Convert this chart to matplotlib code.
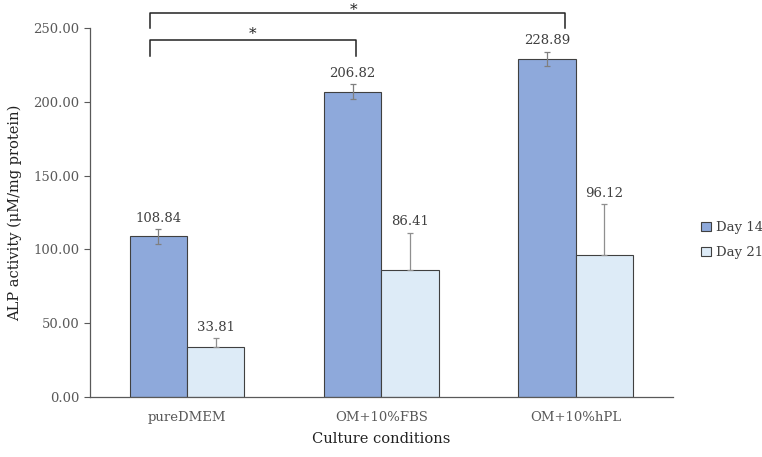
import matplotlib.pyplot as plt
import numpy as np

conditions = ["pureDMEM", "OM+10%FBS", "OM+10%hPL"]
day14 = [108.84, 206.82, 228.89]
day14_err = [5.0, 5.0, 5.0]
day21 = [33.81, 86.41, 96.12]
day21_err = [6.0, 25.0, 34.5]

plt.rcParams['font.family'] = ['DejaVu Serif']

fig = plt.figure(figsize=(7.62, 4.57), dpi=100)
ax = fig.add_axes([0.118, 0.131, 0.765, 0.808])

x = np.arange(len(conditions))
w = 0.295
edge = "#404040"
ax.bar(x - w/2, day14, w, color="#8EA9DB", edgecolor=edge, linewidth=0.8, label="Day 14", zorder=2)
ax.bar(x + w/2, day21, w, color="#DDEBF7", edgecolor=edge, linewidth=0.8, label="Day 21", zorder=2)
ax.errorbar(x - w/2, day14, yerr=day14_err, fmt="none", ecolor="#7f7f7f", elinewidth=0.9, capsize=2.5, capthick=0.9, zorder=3)
ax.errorbar(x + w/2, day21, yerr=[np.zeros(3), day21_err], fmt="none", ecolor="#8f8f8f", elinewidth=0.9, capsize=2.5, capthick=0.9, zorder=3)

for xs, vals, errs in [(x - w/2, day14, day14_err), (x + w/2, day21, day21_err)]:
    for xi, v, e in zip(xs, vals, errs):
        ax.text(xi, v + e + 3, f"{v:.2f}", ha="center", va="bottom", fontsize=9.5, color="#404040")

ax.set_xlim(-0.5, 2.5)
ax.set_ylim(0, 250)
ax.set_yticks(np.arange(0, 251, 50))
ax.set_yticklabels([f"{t:.2f}" for t in np.arange(0, 251, 50)])
ax.set_xticks(x)
ax.set_xticklabels(conditions)
ax.tick_params(axis="y", colors="#595959", labelsize=9.5, length=4, width=0.8, direction="out")
ax.tick_params(axis="x", colors="#595959", labelsize=9.5, length=0, pad=10)
for s in ["top", "right"]:
    ax.spines[s].set_visible(False)
for s in ["left", "bottom"]:
    ax.spines[s].set_color("#595959")
    ax.spines[s].set_linewidth(0.9)

ax.set_ylabel("ALP activity (\u03bcM/mg protein)", fontsize=10.5, color="#222222", labelpad=8)
ax.set_xlabel("Culture conditions", fontsize=10.5, color="#222222", labelpad=6)

# significance brackets
def bracket(x0, x1, ytop, ybot, xs, ys):
    ax.plot([x0, x0, x1, x1], [ybot, ytop, ytop, ybot], color="#222222", lw=1.1, clip_on=False)
    ax.text(xs, ys, "*", ha="center", va="center", fontsize=11, color="#222222", clip_on=False)

bracket(-0.189, 1.946, 260.2, 250.0, 0.858, 262.3)
bracket(-0.189, 0.868, 241.9, 231.0, 0.339, 246.0)

ax.legend(loc="center left", bbox_to_anchor=(0.905, 0.475), bbox_transform=fig.transFigure,
          frameon=False, fontsize=9.5, handlelength=0.7, handleheight=0.7, handletextpad=0.4,
          labelspacing=0.9, labelcolor="#404040")

fig.savefig("out.png", dpi=100)
